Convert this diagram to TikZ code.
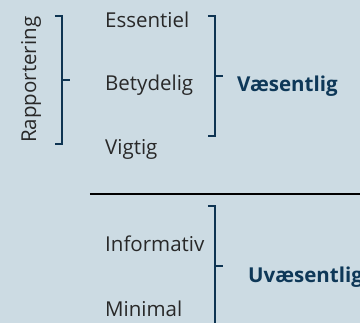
\documentclass[tikz,border=0pt]{standalone}
\usepackage{fontspec}
\setmainfont{Open Sans}
\definecolor{bg}{RGB}{204,219,227}
\definecolor{navy}{RGB}{14,52,82}
\definecolor{txt}{RGB}{40,40,40}
\definecolor{boldtxt}{RGB}{14,56,88}
\tikzset{
  lbl/.style={anchor=base west, inner sep=0pt, text=txt, font=\fontsize{20.5}{24}\selectfont},
  blbl/.style={anchor=base west, inner sep=0pt, text=boldtxt, font=\fontsize{20.5}{24}\selectfont\bfseries},
  brk/.style={draw=navy, line width=2pt},
}
\begin{document}
\begin{tikzpicture}[x=1pt,y=-1pt]
\fill[bg] (0,0) rectangle (360,323);
\useasboundingbox (0,0) rectangle (360,323);
% texts
\node[lbl] (ess) at (105,28) {Essentiel};
\node[lbl] (bet) at (105,91) {Betydelig};
\node[lbl] (vig) at (105,155) {Vigtig};
\node[lbl] (inf) at (105,252) {Informativ};
\node[lbl] (min) at (105,317) {Minimal};
\node[blbl] (vae) at (237,92) {Væsentlig};
\node[blbl] (uvae) at (248,283) {Uvæsentlig};
\node[lbl, rotate=90] (rap) at (36,143) {Rapportering};
% left bracket
\draw[brk] (55,16) -- (62,16) -- (62,144) -- (55,144);
\draw[brk] (62,80) -- (70,80);
% right upper bracket
\draw[brk] (208,16) -- (215,16) -- (215,136) -- (208,136);
\draw[brk] (215,76) -- (223,76);
% lower bracket
\draw[brk] (208,206) -- (215,206) -- (215,330);
\draw[brk] (215,266) -- (223,266);
% separator
\draw[black, line width=1.5pt] (90,194) -- (365,194);
\end{tikzpicture}
\end{document}
